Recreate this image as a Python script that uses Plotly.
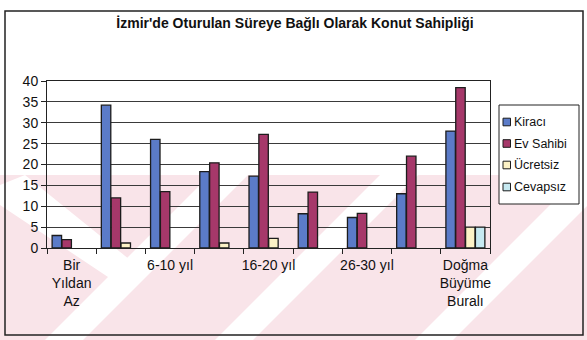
import plotly.graph_objects as go

# Oturulan süre kategorileri (x ekseni)
categories = ["Bir Yıldan Az", "1-5 yıl", "6-10 yıl", "11-15 yıl", "16-20 yıl",
              "21-25 yıl", "26-30 yıl", "30 yıldan fazla", "Doğma Büyüme Buralı"]
tick_labels = ["Bir<br>Yıldan<br>Az", "", "6-10 yıl", "", "16-20 yıl", "",
               "26-30 yıl", "", "Doğma<br>Büyüme<br>Buralı"]

# Seriler (yüzde)
kiraci = [3, 34.2, 26, 18.3, 17.2, 8.2, 7.3, 13, 28]
ev_sahibi = [2, 12, 13.5, 20.4, 27.2, 13.4, 8.3, 22, 38.4]
ucretsiz = [None, 1.2, None, 1.2, 2.3, None, None, None, 5]
cevapsiz = [None, None, None, None, None, None, None, None, 5]

series_names = ["Kiracı", "Ev Sahibi", "Ücretsiz", "Cevapsız"]
series_values = [kiraci, ev_sahibi, ucretsiz, cevapsiz]
series_colors = ["#5b7bc8", "#a6386a", "#fcf2c6", "#c6e9f1"]

y_ticks = [0, 5, 10, 15, 20, 25, 30, 35, 40]

FONT = "Liberation Sans, Arial, sans-serif"
W, H = 587, 340
L, R, T, B = 47, 97, 81, 92


def px_x(px):
    return (px - L) / (W - L - R)


def px_y(py):
    return (H - B - py) / (H - T - B)


fig = go.Figure()
for name, vals, col in zip(series_names, series_values, series_colors):
    fig.add_trace(go.Bar(
        x=categories, y=vals, name=name,
        marker=dict(color=col, line=dict(color="#1c1c1c", width=1.3)),
        showlegend=False,
    ))

shapes = []

# soluk pembe filigran bandı ve beyaz çapraz şeritler
pink = "#f9e4e9"
shapes.append(dict(type="rect", xref="paper", yref="paper",
                   x0=px_x(0), x1=px_x(W), y0=px_y(H), y1=px_y(175),
                   fillcolor=pink, line=dict(width=0), layer="below"))


def stripe(points):
    d = "M " + " L ".join(f"{px_x(a):.4f},{px_y(b):.4f}" for a, b in points) + " Z"
    return dict(type="path", xref="paper", yref="paper", path=d,
                fillcolor="white", line=dict(width=0), layer="below")


# "/" yönlü şeritler
for x_bottom in (45, 215, 415):
    shapes.append(stripe([(x_bottom, H), (x_bottom + 38, H),
                          (x_bottom + 38 + 165, 175), (x_bottom + 165, 175)]))
# "\" yönlü şerit
shapes.append(stripe([(0, 185), (25, 175), (140, 268), (120, 285), (0, 205)]))

# dış çerçeve
shapes.append(dict(type="rect", xref="paper", yref="paper",
                   x0=px_x(5), x1=px_x(583), y0=px_y(335), y1=px_y(11),
                   line=dict(color="#222222", width=1.5), layer="above"))

# gösterge kutusu
shapes.append(dict(type="rect", xref="paper", yref="paper",
                   x0=px_x(499), x1=px_x(579), y0=px_y(204), y1=px_y(105),
                   fillcolor="white", line=dict(color="#222222", width=1)))

annotations = []
item_y = [122, 143.5, 165, 187]
for name, col, yc in zip(series_names, series_colors, item_y):
    shapes.append(dict(type="rect", xref="paper", yref="paper",
                       x0=px_x(503), x1=px_x(510.5), y0=px_y(yc + 3.8), y1=px_y(yc - 3.8),
                       fillcolor=col, line=dict(color="#1c1c1c", width=1)))
    annotations.append(dict(xref="paper", yref="paper", x=px_x(512), y=px_y(yc),
                            xanchor="left", yanchor="middle", showarrow=False,
                            text=name, font=dict(family=FONT, size=12.5, color="#111111")))

fig.update_layout(
    width=W, height=H,
    margin=dict(l=L, r=R, t=T, b=B, pad=0),
    paper_bgcolor="white",
    plot_bgcolor="rgba(0,0,0,0)",
    barmode="group", bargap=0.2, bargroupgap=0.04,
    font=dict(family=FONT, size=14, color="#111111"),
    title=dict(text="<b>İzmir'de Oturulan Süreye Bağlı Olarak Konut Sahipliği</b>",
               xref="container", yref="container", x=295 / W, y=1 - 23 / H,
               xanchor="center", yanchor="middle",
               font=dict(family=FONT, size=14, color="#111111")),
    xaxis=dict(type="category", tickmode="array", tickvals=categories, ticktext=tick_labels,
               tickson="boundaries", ticks="outside", ticklen=5, tickcolor="#222222",
               tickangle=0,
               showline=True, linecolor="#222222", linewidth=1, mirror=True,
               showgrid=False, tickfont=dict(size=14), ticklabelstandoff=4,
               range=[-0.5, len(categories) - 0.5]),
    yaxis=dict(range=[0, 40], tickvals=y_ticks, ticks="outside", ticklen=5,
               tickcolor="#222222", showline=True, linecolor="#222222", linewidth=1,
               mirror=True, showgrid=True, gridcolor="#3a3a3a", gridwidth=1,
               zeroline=False, tickfont=dict(size=14)),
    shapes=shapes,
    annotations=annotations,
)

fig.write_html("out.html")
